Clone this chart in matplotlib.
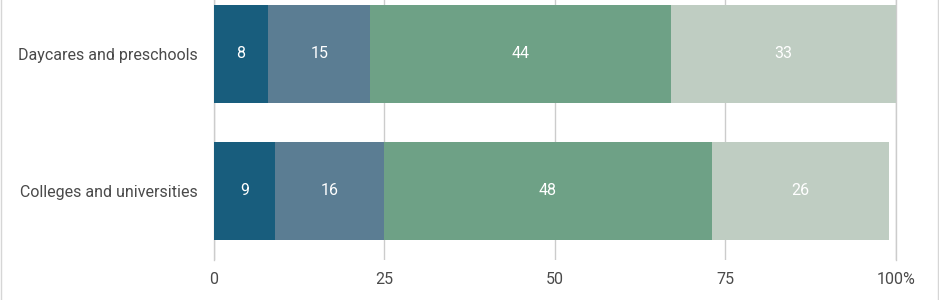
import matplotlib
matplotlib.use("Agg")
import matplotlib.pyplot as plt
from matplotlib.lines import Line2D

categories = ["Daycares and preschools", "Colleges and universities"]
seg1 = [8, 9]
seg2 = [15, 16]
seg3 = [44, 48]
seg4 = [33, 26]
colors = ["#185d7d", "#5b7d93", "#6ea186", "#bfcdc2"]
ticks = [0, 25, 50, 75, 100]
tick_labels = ["0", "25", "50", "75", "100%"]

plt.rcParams["font.family"] = ["Roboto", "DejaVu Sans"]

fig = plt.figure(figsize=(9.39, 3.0), dpi=100)
ax = fig.add_axes([213.5 / 939, 40 / 300, (896 - 213.5) / 939, 260 / 300])

ypos = list(range(len(categories)))
left = [0] * len(categories)
for vals, col in zip([seg1, seg2, seg3, seg4], colors):
    bars = ax.barh(ypos, vals, left=left, height=0.71, color=col, zorder=2)
    for b, v in zip(bars, vals):
        ax.text(b.get_x() + b.get_width() / 2, b.get_y() + b.get_height() / 2,
                str(v), ha="center", va="center", color="white", fontsize=11.5)
    left = [l + v for l, v in zip(left, vals)]

ax.set_xlim(0, 100)
ax.set_ylim(1.504, -0.394)
ax.set_xticks(ticks)
ax.set_xticklabels(tick_labels)
ax.set_yticks(ypos)
ax.set_yticklabels(categories)
ax.tick_params(axis="both", length=0, labelsize=11.5, labelcolor="#4a4a4a")
ax.tick_params(axis="x", pad=9)
ax.tick_params(axis="y", pad=11)
ax.grid(axis="x", color="#cccccc", linewidth=1, zorder=0)
for s in ax.spines.values():
    s.set_visible(False)
# edge gridlines drawn unclipped so they show fully
for t in [0, 100]:
    ax.axvline(t, color="#cccccc", linewidth=1, zorder=1, clip_on=False)

fig.add_artist(Line2D([0.5 / 939, 0.5 / 939], [0, 1], color="#d6d6d6", linewidth=1))
fig.add_artist(Line2D([938 / 939, 938 / 939], [0, 1], color="#d6d6d6", linewidth=1))

fig.savefig("out.png", dpi=100)
